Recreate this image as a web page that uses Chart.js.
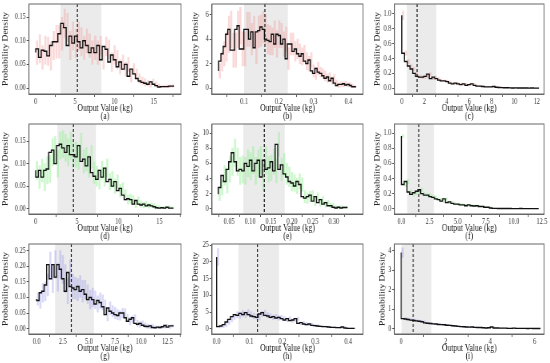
<!DOCTYPE html>
<html>
<head>
<meta charset="utf-8">
<script src="https://cdn.jsdelivr.net/npm/chart.js@4.4.0/dist/chart.umd.min.js"></script>
<style>
  html, body { margin: 0; background: #fff; }
  #wrap { position: relative; width: 550px; height: 363px; overflow: hidden; }
  #wrap canvas { position: absolute; }
</style>
</head>
<body>
<div id="wrap"></div>
<script>
// Histogram heights per panel (probability density per bin)
const valsA = [0.075, 0.083, 0.065, 0.080, 0.078, 0.068, 0.090, 0.098, 0.098, 0.115, 0.137, 0.128, 0.090, 0.110, 0.095, 0.110, 0.098, 0.085, 0.100, 0.090, 0.075, 0.085, 0.075, 0.090, 0.060, 0.088, 0.082, 0.055, 0.070, 0.060, 0.045, 0.055, 0.040, 0.050, 0.025, 0.040, 0.030, 0.020, 0.015, 0.012, 0.010, 0.008, 0.013, 0.008, 0.005, 0.002, 0.003, 0.003, 0.003, 0.004];
const errA = [0.025, 0.03, 0.025, 0.03, 0.03, 0.03, 0.03, 0.035, 0.035, 0.035, 0.03, 0.03, 0.03, 0.03, 0.03, 0.03, 0.03, 0.025, 0.025, 0.025, 0.025, 0.025, 0.025, 0.02, 0.02, 0.02, 0.02, 0.02, 0.02, 0.02, 0.015, 0.015, 0.015, 0.015, 0.012, 0.012, 0.01, 0.01, 0.008, 0.008, 0.006, 0.006, 0.006, 0.005, 0.004, 0.003, 0.003, 0.003, 0.003, 0.003];

const valsB = [1.4, 2.2, 2.8, 3.4, 4.4, 4.8, 3.1, 3.1, 4.8, 5.1, 3.2, 3.2, 4.8, 4.8, 4.0, 4.6, 3.3, 4.6, 4.7, 5.0, 4.8, 4.0, 3.9, 3.8, 4.4, 3.6, 4.4, 4.3, 3.6, 4.0, 2.4, 3.6, 3.6, 3.0, 3.2, 2.8, 2.6, 2.8, 2.2, 2.0, 2.3, 1.4, 1.2, 1.6, 1.3, 1.2, 1.0, 0.8, 0.9, 0.6, 0.8, 0.4, 0.2, 0.3, 0.3, 0.35, 0.25, 0.3, 0.2, 0.1];
const errB = [0.6, 0.8, 1.0, 1.2, 1.5, 1.5, 1.4, 1.4, 1.5, 1.5, 1.4, 1.4, 1.4, 1.4, 1.3, 1.3, 1.3, 1.3, 1.3, 1.3, 1.2, 1.2, 1.2, 1.1, 1.1, 1.1, 1.1, 1.0, 1.0, 1.0, 0.9, 0.9, 0.9, 0.8, 0.8, 0.8, 0.7, 0.7, 0.7, 0.6, 0.6, 0.5, 0.5, 0.5, 0.4, 0.4, 0.4, 0.35, 0.35, 0.3, 0.3, 0.25, 0.2, 0.2, 0.2, 0.2, 0.15, 0.15, 0.1, 0.1];

const valsC = [0.98, 0.47, 0.36, 0.30, 0.26, 0.20, 0.16, 0.15, 0.15, 0.16, 0.19, 0.13, 0.15, 0.13, 0.11, 0.10, 0.10, 0.09, 0.07, 0.06, 0.07, 0.06, 0.05, 0.06, 0.04, 0.05, 0.06, 0.04, 0.03, 0.03, 0.025, 0.02, 0.02, 0.02, 0.025, 0.015, 0.012, 0.01, 0.008, 0.008, 0.006, 0.005, 0.006, 0.005, 0.004, 0.005, 0.004, 0.003, 0.004, 0.003];
const errC = [0.06, 0.03, 0.03, 0.025, 0.02, 0.02, 0.02, 0.02, 0.02, 0.02, 0.02, 0.015, 0.015, 0.015, 0.015, 0.012, 0.012, 0.012, 0.01, 0.01, 0.01, 0.01, 0.01, 0.01, 0.008, 0.008, 0.008, 0.008, 0.006, 0.006, 0.006, 0.005, 0.005, 0.005, 0.005, 0.004, 0.004, 0.004, 0.003, 0.003, 0.003, 0.003, 0.002, 0.002, 0.002, 0.002, 0.002, 0.002, 0.002, 0.002];

const valsD = [0.085, 0.07, 0.085, 0.07, 0.085, 0.088, 0.125, 0.13, 0.10, 0.14, 0.143, 0.135, 0.125, 0.14, 0.12, 0.12, 0.115, 0.14, 0.105, 0.11, 0.095, 0.115, 0.08, 0.072, 0.065, 0.085, 0.07, 0.09, 0.06, 0.065, 0.05, 0.06, 0.04, 0.045, 0.03, 0.02, 0.022, 0.02, 0.01, 0.018, 0.01, 0.008, 0.01, 0.006, 0.008, 0.006, 0.004, 0.002, 0.001, 0.002, 0.001, 0.003, 0.001];
const errD = [0.02, 0.025, 0.025, 0.03, 0.03, 0.03, 0.03, 0.03, 0.03, 0.03, 0.03, 0.03, 0.03, 0.03, 0.028, 0.028, 0.028, 0.028, 0.026, 0.026, 0.025, 0.025, 0.024, 0.022, 0.022, 0.02, 0.02, 0.02, 0.018, 0.018, 0.016, 0.015, 0.014, 0.013, 0.012, 0.01, 0.01, 0.009, 0.008, 0.008, 0.007, 0.006, 0.006, 0.005, 0.005, 0.005, 0.004, 0.004, 0.003, 0.003, 0.003, 0.003, 0.003];

const valsE = [1.9, 2.8, 4.4, 3.6, 5.2, 6.2, 7.4, 6.2, 5.0, 5.2, 5.0, 6.0, 5.6, 6.4, 5.0, 6.0, 6.4, 4.2, 6.4, 5.2, 5.4, 6.2, 5.0, 8.5, 5.2, 5.8, 4.6, 4.2, 3.6, 3.4, 3.0, 3.6, 3.2, 1.6, 1.4, 1.6, 1.8, 1.0, 1.6, 0.8, 1.2, 0.6, 0.8, 0.4, 0.4, 0.2, 0.1, 0.2, 0.1, 0.15];
const errE = [0.8, 1.0, 1.3, 1.5, 1.7, 1.8, 1.8, 1.8, 1.8, 1.8, 1.8, 1.8, 1.8, 1.8, 1.8, 1.8, 1.8, 1.8, 1.8, 1.7, 1.7, 1.7, 1.6, 1.6, 1.5, 1.5, 1.4, 1.3, 1.2, 1.1, 1.0, 1.0, 0.9, 0.8, 0.7, 0.7, 0.6, 0.6, 0.5, 0.5, 0.4, 0.4, 0.3, 0.3, 0.3, 0.2, 0.2, 0.2, 0.2, 0.2];

const valsF = [0.96, 0.32, 0.36, 0.22, 0.19, 0.21, 0.23, 0.25, 0.20, 0.18, 0.18, 0.16, 0.15, 0.13, 0.12, 0.10, 0.13, 0.08, 0.09, 0.07, 0.06, 0.06, 0.05, 0.05, 0.04, 0.05, 0.04, 0.035, 0.04, 0.03, 0.03, 0.02, 0.02, 0.01, 0.005, 0.004, 0.003, 0.003, 0.002, 0.002, 0.002, 0.001, 0.001, 0.001, 0.002, 0.001, 0.001, 0.001, 0.001, 0.001];
const errF = [0.02, 0.03, 0.03, 0.03, 0.025, 0.025, 0.025, 0.025, 0.02, 0.02, 0.02, 0.02, 0.02, 0.015, 0.015, 0.015, 0.015, 0.012, 0.012, 0.01, 0.01, 0.01, 0.01, 0.008, 0.008, 0.008, 0.008, 0.006, 0.006, 0.006, 0.005, 0.005, 0.004, 0.003, 0.003, 0.002, 0.002, 0.002, 0.002, 0.002, 0.002, 0.001, 0.001, 0.001, 0.001, 0.001, 0.001, 0.001, 0.001, 0.001];

const valsG = [0.095, 0.09, 0.115, 0.12, 0.14, 0.205, 0.16, 0.205, 0.165, 0.205, 0.19, 0.16, 0.12, 0.18, 0.135, 0.13, 0.125, 0.135, 0.12, 0.125, 0.11, 0.093, 0.10, 0.093, 0.079, 0.09, 0.084, 0.07, 0.045, 0.066, 0.056, 0.05, 0.045, 0.042, 0.05, 0.05, 0.035, 0.024, 0.03, 0.035, 0.017, 0.014, 0.017, 0.011, 0.008, 0.007, 0.009, 0.004, 0.003, 0.005, 0.004, 0.006, 0.01, 0.005, 0.009];
const errG = [0.02, 0.025, 0.03, 0.03, 0.035, 0.04, 0.045, 0.045, 0.045, 0.045, 0.045, 0.045, 0.04, 0.04, 0.04, 0.035, 0.035, 0.035, 0.035, 0.03, 0.03, 0.03, 0.03, 0.028, 0.026, 0.025, 0.024, 0.022, 0.02, 0.02, 0.018, 0.018, 0.016, 0.015, 0.015, 0.014, 0.012, 0.012, 0.011, 0.01, 0.01, 0.009, 0.008, 0.008, 0.007, 0.006, 0.006, 0.005, 0.005, 0.004, 0.004, 0.004, 0.004, 0.004, 0.004];

const valsH = [21.5, 0.6, 0.8, 1.2, 2.0, 2.8, 3.6, 4.2, 4.0, 4.6, 4.2, 4.8, 4.2, 3.8, 3.6, 3.4, 4.4, 4.8, 4.0, 3.8, 3.4, 3.6, 3.2, 3.4, 3.0, 2.6, 3.0, 2.4, 2.6, 3.0, 1.6, 1.8, 1.4, 1.2, 1.4, 1.0, 0.9, 0.8, 0.7, 0.6, 0.6, 0.5, 0.4, 0.4, 0.3, 0.3, 0.5, 0.2, 0.1, 0.1];
const errH = [2.5, 0.4, 0.5, 0.6, 0.7, 0.8, 0.8, 0.9, 0.9, 0.9, 0.9, 0.9, 0.9, 0.9, 0.8, 0.8, 0.8, 0.8, 0.8, 0.7, 0.7, 0.7, 0.7, 0.6, 0.6, 0.6, 0.6, 0.5, 0.5, 0.5, 0.4, 0.4, 0.4, 0.3, 0.3, 0.3, 0.3, 0.2, 0.2, 0.2, 0.2, 0.2, 0.15, 0.15, 0.15, 0.1, 0.1, 0.1, 0.1, 0.1];

const valsI = [3.9, 0.52, 0.50, 0.47, 0.44, 0.42, 0.40, 0.38, 0.36, 0.30, 0.28, 0.27, 0.25, 0.24, 0.22, 0.21, 0.20, 0.18, 0.17, 0.15, 0.14, 0.12, 0.11, 0.10, 0.09, 0.08, 0.09, 0.07, 0.06, 0.06, 0.05, 0.04, 0.05, 0.09, 0.04, 0.04, 0.03, 0.03, 0.03, 0.02, 0.02, 0.03, 0.02, 0.02, 0.02, 0.02, 0.01, 0.02, 0.01, 0.01];
const errI = [0.25, 0.06, 0.05, 0.05, 0.05, 0.05, 0.04, 0.04, 0.04, 0.04, 0.04, 0.03, 0.03, 0.03, 0.03, 0.03, 0.03, 0.03, 0.02, 0.02, 0.02, 0.02, 0.02, 0.02, 0.02, 0.015, 0.015, 0.015, 0.015, 0.01, 0.01, 0.01, 0.01, 0.01, 0.01, 0.01, 0.01, 0.008, 0.008, 0.008, 0.008, 0.008, 0.006, 0.006, 0.006, 0.006, 0.005, 0.005, 0.005, 0.005];

// x extent of the histogram bins (kg)
const binsA = [0, 17.6], binsB = [0.027, 0.422], binsC = [0, 12.2];
const binsD = [0, 16.7], binsE = [0.024, 0.333], binsF = [0, 12.2];
const binsG = [0, 13.1], binsH = [0, 0.42], binsI = [0, 6.26];

// shaded interval and median (dashed line)
const spanA = [3.14, 8.35], medianA = 5.3;
const spanB = [0.10, 0.226], medianB = 0.16;
const spanC = [0.44, 3.07], medianC = 1.36;
const spanD = [2.63, 7.29], medianD = 4.57;
const spanE = [0.0836, 0.183], medianE = 0.134;
const spanF = [0.5, 2.9], medianF = 1.54;
const spanG = [1.75, 5.48], medianG = 3.31;
const spanH = [0.066, 0.19], medianH = 0.124;
const spanI = [0.02, 1.36], medianI = 0.54;

// tick labels
const xTicksA = ['0', '5', '10', '15'];
const xTicksB = ['0.1', '0.2', '0.3', '0.4'];
const xTicksC = ['0', '2', '4', '6', '8', '10', '12'];
const xTicksD = ['0', '5', '10', '15'];
const xTicksE = ['0.05', '0.10', '0.15', '0.20', '0.25', '0.30'];
const xTicksF = ['0.0', '2.5', '5.0', '7.5', '10.0', '12.5'];
const xTicksG = ['0.0', '2.5', '5.0', '7.5', '10.0', '12.5'];
const xTicksH = ['0.0', '0.1', '0.2', '0.3', '0.4'];
const xTicksI = ['0', '2', '4', '6'];
const yTicksA = ['0.00', '0.05', '0.10', '0.15'];
const yTicksB = ['0', '2', '4', '6'];
const yTicksC = ['0.0', '0.2', '0.4', '0.6', '0.8', '1.0'];
const yTicksD = ['0.00', '0.05', '0.10', '0.15'];
const yTicksE = ['0', '2', '4', '6', '8', '10'];
const yTicksF = ['0.0', '0.2', '0.4', '0.6', '0.8', '1.0'];
const yTicksG = ['0.00', '0.05', '0.10', '0.15', '0.20', '0.25'];
const yTicksH = ['0', '5', '10', '15', '20', '25'];
const yTicksI = ['0', '1', '2', '3', '4'];

const xTitle = 'Output Value (kg)';
const yTitle = 'Probability Density';

// layout (css px); the figure is squeezed horizontally
const SX = 0.8;
const RIGHT_PAD = 6;
const cols = [
  { canvasL: 2, frameL: 29, frameR: 181 },
  { canvasL: 192, frameL: 212, frameR: 363 },
  { canvasL: 373.5, frameL: 394, frameR: 544 },
];
const rows = [
  { top: 4, bottom: 94 },
  { top: 124, bottom: 214 },
  { top: 244, bottom: 334 },
];
const errColors = ['rgba(240,128,128,0.30)', 'rgba(144,238,144,0.45)', 'rgba(120,120,230,0.27)'];

const panels = [
  { id: 'a', row: 0, col: 0, vals: valsA, err: errA, bins: binsA, span: spanA, median: medianA, xt: xTicksA, yt: yTicksA, xLim: [-0.85, 18.47], yLim: [-0.0127, 0.178] },
  { id: 'b', row: 0, col: 1, vals: valsB, err: errB, bins: binsB, span: spanB, median: medianB, xt: xTicksB, yt: yTicksB, xLim: [0.008, 0.442], yLim: [-0.49, 6.88] },
  { id: 'c', row: 0, col: 2, vals: valsC, err: errC, bins: binsC, span: spanC, median: medianC, xt: xTicksC, yt: yTicksC, xLim: [-0.65, 12.65], yLim: [-0.076, 1.13] },
  { id: 'd', row: 1, col: 0, vals: valsD, err: errD, bins: binsD, span: spanD, median: medianD, xt: xTicksD, yt: yTicksD, xLim: [-0.81, 17.6], yLim: [-0.012, 0.188] },
  { id: 'e', row: 1, col: 1, vals: valsE, err: errE, bins: binsE, span: spanE, median: medianE, xt: xTicksE, yt: yTicksE, xLim: [0.009, 0.37], yLim: [-0.7, 11.2] },
  { id: 'f', row: 1, col: 2, vals: valsF, err: errF, bins: binsF, span: spanF, median: medianF, xt: xTicksF, yt: yTicksF, xLim: [-0.62, 12.68], yLim: [-0.07, 1.12] },
  { id: 'g', row: 2, col: 0, vals: valsG, err: errG, bins: binsG, span: spanG, median: medianG, xt: xTicksG, yt: yTicksG, xLim: [-0.73, 13.8], yLim: [-0.017, 0.271] },
  { id: 'h', row: 2, col: 1, vals: valsH, err: errH, bins: binsH, span: spanH, median: medianH, xt: xTicksH, yt: yTicksH, xLim: [-0.014, 0.445], yLim: [-1.6, 25.4] },
  { id: 'i', row: 2, col: 2, vals: valsI, err: errI, bins: binsI, span: spanI, median: medianI, xt: xTicksI, yt: yTicksI, xLim: [-0.3, 6.42], yLim: [-0.27, 4.34], canvasL: 378.5 },
];

const FONT = "'Liberation Serif', 'DejaVu Serif', serif";

// grey interval, median line and the box around each plot
const panelExtras = {
  id: 'panelExtras',
  beforeDatasetsDraw(chart, args, opts) {
    const { ctx, chartArea: a, scales: { x } } = chart;
    const x0 = x.getPixelForValue(opts.span[0]);
    const x1 = x.getPixelForValue(opts.span[1]);
    ctx.save();
    ctx.fillStyle = 'rgba(0,0,0,0.08)';
    ctx.fillRect(x0, a.top, x1 - x0, a.bottom - a.top);
    ctx.restore();
  },
  afterDatasetsDraw(chart, args, opts) {
    const { ctx, chartArea: a, scales: { x } } = chart;
    const xm = x.getPixelForValue(opts.median);
    ctx.save();
    ctx.strokeStyle = '#111';
    ctx.lineWidth = 1.2;
    ctx.setLineDash([3, 2]);
    ctx.beginPath();
    ctx.moveTo(xm, a.top);
    ctx.lineTo(xm, a.bottom);
    ctx.stroke();
    ctx.setLineDash([]);
    ctx.strokeStyle = '#666';
    ctx.lineWidth = 1;
    ctx.strokeRect(a.left, a.top, a.right - a.left, a.bottom - a.top);
    ctx.restore();
  }
};

const wrap = document.getElementById('wrap');

panels.forEach(p => {
  const col = cols[p.col], row = rows[p.row];
  const canvasL = p.canvasL ?? col.canvasL;
  const cssW = col.frameR + RIGHT_PAD - canvasL;
  const cssTop = row.top - 3;
  const cssH = row.bottom + 27 - cssTop;

  const cv = document.createElement('canvas');
  cv.width = Math.round(cssW / SX);
  cv.height = Math.round(cssH);
  cv.style.left = canvasL + 'px';
  cv.style.top = cssTop + 'px';
  cv.style.width = cssW + 'px';
  cv.style.height = cssH + 'px';
  wrap.appendChild(cv);
  const sx = cssW / cv.width;
  const yAxisW = (col.frameL - canvasL) / sx;

  const n = p.vals.length;
  const w = (p.bins[1] - p.bins[0]) / n;
  const stepPts = p.vals.map((v, i) => ({ x: p.bins[0] + i * w, y: v }));
  stepPts.push({ x: p.bins[1], y: p.vals[n - 1] });
  const errBars = p.vals.map((v, i) => {
    const e = p.err[i] ?? 0;
    return { x: p.bins[0] + (i + 0.5) * w, y: [Math.max(0, v - e), v + e] };
  });

  const xTickVals = p.xt.map(parseFloat);
  const yTickVals = p.yt.map(parseFloat);
  const tickFont = { family: FONT, size: 7.8 };

  new Chart(cv, {
    type: 'line',
    data: {
      datasets: [
        { type: 'line', data: stepPts, stepped: 'after', borderColor: '#111', borderWidth: 1.4, pointRadius: 0, fill: false, order: 0 },
        { type: 'bar', data: errBars, backgroundColor: errColors[p.row], borderWidth: 0, barThickness: 2, order: 1 }
      ]
    },
    options: {
      responsive: false,
      animation: false,
      devicePixelRatio: 1,
      layout: { padding: { top: 3, right: RIGHT_PAD / sx, left: 0, bottom: 0 } },
      plugins: {
        legend: { display: false },
        tooltip: { enabled: false },
        panelExtras: { span: p.span, median: p.median }
      },
      scales: {
        x: {
          type: 'linear',
          min: p.xLim[0],
          max: p.xLim[1],
          offset: false,
          afterBuildTicks: s => { s.ticks = xTickVals.map(v => ({ value: v })); },
          afterFit: s => { s.height = 27; s.paddingLeft = 0; s.paddingRight = 0; },
          ticks: { callback: (v, i) => p.xt[i], font: tickFont, color: '#333', padding: 0, maxRotation: 0, autoSkip: false },
          grid: { drawOnChartArea: false, drawTicks: true, tickLength: 3, tickColor: '#555' },
          border: { display: true, color: '#666' },
          title: { display: true, text: [xTitle, '(' + p.id + ')'], font: { family: FONT, size: 9.5, lineHeight: 0.86 }, color: '#222', padding: 0 }
        },
        y: {
          type: 'linear',
          min: p.yLim[0],
          max: p.yLim[1],
          afterBuildTicks: s => { s.ticks = yTickVals.map(v => ({ value: v })); },
          afterFit: s => { s.width = yAxisW; s.paddingTop = 0; s.paddingBottom = 0; },
          ticks: { callback: (v, i) => p.yt[i], font: tickFont, color: '#333', padding: 1, autoSkip: false },
          grid: { drawOnChartArea: false, drawTicks: true, tickLength: 3, tickColor: '#555' },
          border: { display: true, color: '#666' },
          title: { display: true, text: yTitle, font: { family: FONT, size: 9.5, lineHeight: 1.0 }, color: '#222', padding: 0 }
        }
      }
    },
    plugins: [panelExtras]
  });
});
</script>
</body>
</html>
